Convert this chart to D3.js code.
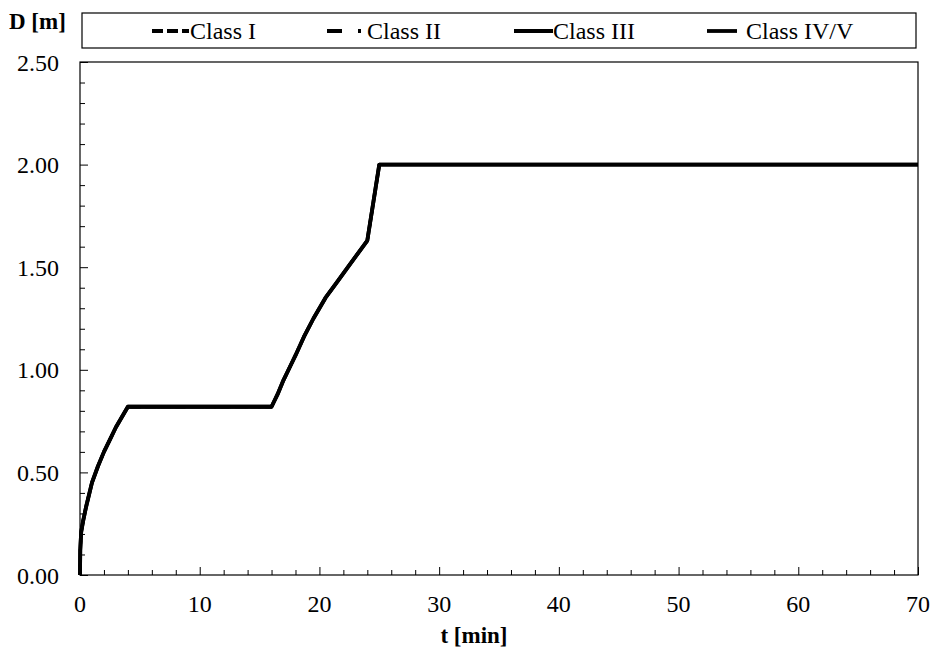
<!DOCTYPE html>
<html>
<head>
<meta charset="utf-8">
<script src="https://cdn.jsdelivr.net/npm/d3@7"></script>
<style>
  body { margin: 0; background: #fff; }
  svg { display: block; font-family: "Liberation Serif", "Times New Roman", serif; }
</style>
</head>
<body>
<svg id="chart" width="932" height="651"></svg>
<script>
// values (all four classes overlap)
const T_MIN = [0, 0.02, 0.1, 0.25, 0.5, 1, 1.5, 2, 2.5, 3, 3.5, 4, 16, 16.5, 17, 17.5, 18, 18.7, 19.5, 20.5, 21.5, 22.5, 24, 25, 70];
const D_CLASS_I   = [0, 0.12, 0.21, 0.26, 0.33, 0.45, 0.53, 0.60, 0.66, 0.72, 0.77, 0.82, 0.82, 0.88, 0.95, 1.01, 1.07, 1.16, 1.25, 1.35, 1.43, 1.51, 1.63, 2.00, 2.00];
const D_CLASS_II  = [0, 0.12, 0.21, 0.26, 0.33, 0.45, 0.53, 0.60, 0.66, 0.72, 0.77, 0.82, 0.82, 0.88, 0.95, 1.01, 1.07, 1.16, 1.25, 1.35, 1.43, 1.51, 1.63, 2.00, 2.00];
const D_CLASS_III = [0, 0.12, 0.21, 0.26, 0.33, 0.45, 0.53, 0.60, 0.66, 0.72, 0.77, 0.82, 0.82, 0.88, 0.95, 1.01, 1.07, 1.16, 1.25, 1.35, 1.43, 1.51, 1.63, 2.00, 2.00];
const D_CLASS_IV  = [0, 0.12, 0.21, 0.26, 0.33, 0.45, 0.53, 0.60, 0.66, 0.72, 0.77, 0.82, 0.82, 0.88, 0.95, 1.01, 1.07, 1.16, 1.25, 1.35, 1.43, 1.51, 1.63, 2.00, 2.00];

const SERIES_NAMES = ['Class I', 'Class II', 'Class III', 'Class IV/V'];
const SERIES_VALUES = [D_CLASS_I, D_CLASS_II, D_CLASS_III, D_CLASS_IV];
const X_TICKS = [0, 10, 20, 30, 40, 50, 60, 70];
const Y_TICKS = [0, 0.5, 1, 1.5, 2, 2.5];

const DASHES = ['11,4', '15,16,3,10', null, null];
const LEGEND_X = [152, 327, 514, 707];   // sample line start
const LEGEND_LEN = [37, 34, 39, 30];
const LEGEND_GAP = [1, 6, 0, 9];

const svg = d3.select('#chart');
const plotL = 80, plotR = 918, plotT = 62, plotB = 575;

const x = d3.scaleLinear().domain([0, 70]).range([plotL, plotR]);
const y = d3.scaleLinear().domain([0, 2.5]).range([plotB, plotT]);

// frame
svg.append('rect').attr('x', plotL).attr('y', plotT)
  .attr('width', plotR - plotL).attr('height', plotB - plotT)
  .attr('fill', 'none').attr('stroke', '#000').attr('stroke-width', 1.2);

// inward ticks
const xAxis = d3.axisBottom(x).tickValues(d3.range(0, 71, 2)).tickSize(-5).tickFormat('');
svg.append('g').attr('transform', `translate(0,${plotB})`).call(xAxis)
  .call(g => g.select('.domain').remove())
  .call(g => g.selectAll('.tick line').attr('stroke', '#000')
    .attr('y2', d => d % 10 === 0 ? -8 : -5));

const yAxis = d3.axisLeft(y).tickValues(d3.range(0, 26).map(i => i / 10)).tickSize(-5).tickFormat('');
svg.append('g').attr('transform', `translate(${plotL},0)`).call(yAxis)
  .call(g => g.select('.domain').remove())
  .call(g => g.selectAll('.tick line').attr('stroke', '#000')
    .attr('x2', (d, i) => i % 5 === 0 ? 8 : 5));

// tick labels
svg.append('g').selectAll('text').data(X_TICKS).join('text')
  .attr('x', d => x(d)).attr('y', 612)
  .attr('text-anchor', 'middle').attr('font-size', 24).text(d => d);

svg.append('g').selectAll('text').data(Y_TICKS).join('text')
  .attr('x', 59).attr('y', d => y(d) + 8.5)
  .attr('text-anchor', 'end').attr('font-size', 24).text(d => d.toFixed(2));

// axis titles
svg.append('text').attr('x', 9).attr('y', 29).attr('font-size', 23)
  .attr('font-weight', 'bold').text('D [m]');
svg.append('text').attr('x', 474).attr('y', 643).attr('text-anchor', 'middle')
  .attr('font-size', 23).attr('font-weight', 'bold').text('t [min]');

// series
const line = d3.line().x(d => x(d[0])).y(d => y(d[1]));
SERIES_VALUES.forEach((vals, i) => {
  svg.append('path')
    .datum(T_MIN.map((t, k) => [t, vals[k]]))
    .attr('d', line)
    .attr('fill', 'none').attr('stroke', '#000')
    .attr('stroke-width', DASHES[i] ? 3 : 3.8)
    .attr('stroke-linejoin', 'round')
    .attr('stroke-dasharray', DASHES[i]);
});

// legend
svg.append('rect').attr('x', 82).attr('y', 13).attr('width', 834).attr('height', 35)
  .attr('fill', '#fff').attr('stroke', '#000').attr('stroke-width', 1.2);

const lg = svg.append('g').selectAll('g').data(SERIES_NAMES).join('g');
lg.append('line')
  .attr('x1', (d, i) => LEGEND_X[i]).attr('x2', (d, i) => LEGEND_X[i] + LEGEND_LEN[i])
  .attr('y1', 31).attr('y2', 31)
  .attr('stroke', '#000').attr('stroke-width', 3.8)
  .attr('stroke-dasharray', (d, i) => DASHES[i]);
lg.append('text')
  .attr('x', (d, i) => LEGEND_X[i] + LEGEND_LEN[i] + LEGEND_GAP[i])
  .attr('y', 39).attr('font-size', 24).text(d => d);
</script>
</body>
</html>
